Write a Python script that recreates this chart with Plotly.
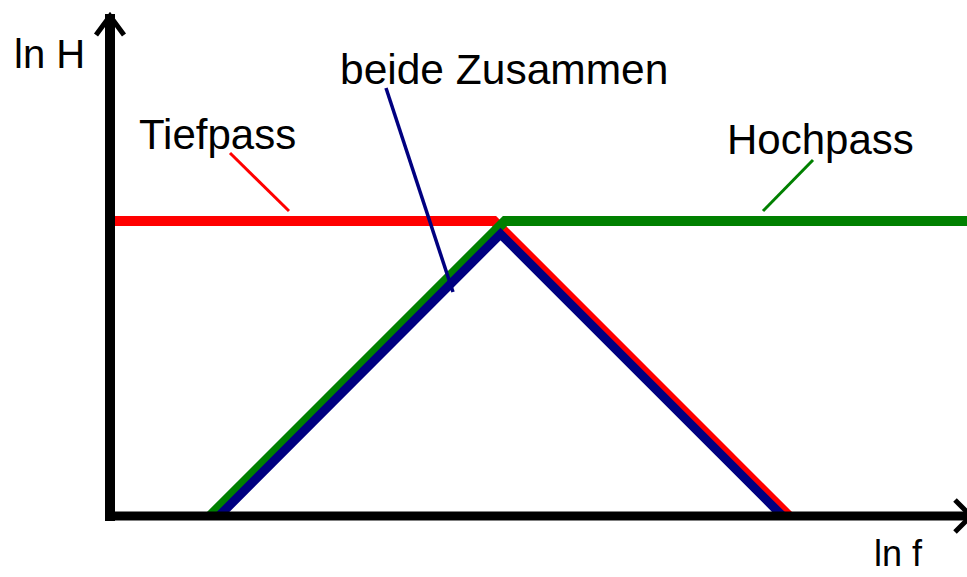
import plotly.graph_objects as go

# ln f / ln H values (abstract units, origin at axis crossing)
lnf_tiefpass = [0.03, 3.84, 6.79]
lnH_tiefpass = [2.95, 2.95, 0.0]

lnf_hochpass = [1.00, 3.95, 8.60]
lnH_hochpass = [0.0, 2.95, 2.95]

lnf_beide = [1.09, 3.905, 6.725]
lnH_beide = [0.0, 2.82, 0.0]

series_names = ["Tiefpass", "Hochpass", "beide Zusammen"]
axis_labels = ["ln H", "ln f"]

RED = "#ff0000"
GREEN = "#008000"
NAVY = "#000080"
FONT = "Liberation Sans, Arial, sans-serif"

fig = go.Figure()
fig.add_trace(go.Scatter(x=lnf_tiefpass, y=lnH_tiefpass, mode="lines",
                         line=dict(color=RED, width=10), name=series_names[0],
                         hoverinfo="skip"))
fig.add_trace(go.Scatter(x=lnf_hochpass, y=lnH_hochpass, mode="lines",
                         line=dict(color=GREEN, width=10), name=series_names[1],
                         hoverinfo="skip"))
fig.add_trace(go.Scatter(x=lnf_beide, y=lnH_beide, mode="lines",
                         line=dict(color=NAVY, width=9), name=series_names[2],
                         hoverinfo="skip"))

shapes = [
    # axes
    dict(type="line", x0=0, y0=-0.05, x1=0, y1=5.02, line=dict(color="black", width=10), layer="above"),
    dict(type="line", x0=-0.05, y0=0, x1=8.58, y1=0, line=dict(color="black", width=9), layer="above"),
    dict(type="path", path="M -0.14 4.81 L 0 5.0 L 0.14 4.81", line=dict(color="black", width=5), layer="above"),
    dict(type="path", path="M 8.45 0.16 L 8.61 0 L 8.45 -0.16", line=dict(color="black", width=5), layer="above"),
    # leader lines
    dict(type="line", x0=1.20, y0=3.63, x1=1.79, y1=3.05, line=dict(color=RED, width=3), layer="above"),
    dict(type="line", x0=7.03, y0=3.56, x1=6.53, y1=3.05, line=dict(color=GREEN, width=3), layer="above"),
    dict(type="line", x0=2.76, y0=4.28, x1=3.43, y1=2.24, line=dict(color=NAVY, width=3.5), layer="above"),
]

def label(text, x, y, size, color="black"):
    return dict(text=text, x=x, y=y, xref="x", yref="y", xanchor="left", yanchor="middle",
                showarrow=False, borderpad=0, font=dict(family=FONT, size=size, color=color))

annotations = [
    label(axis_labels[0], -0.97, 4.62, 40),
    label(axis_labels[1], 7.63, -0.37, 36),
    label(series_names[0], 0.28, 3.82, 42),
    label(series_names[2], 2.29, 4.47, 42.5),
    label(series_names[1], 6.16, 3.77, 42),
]

fig.update_layout(
    width=967, height=577, autosize=False,
    margin=dict(l=0, r=0, t=0, b=0),
    paper_bgcolor="white", plot_bgcolor="white",
    showlegend=False,
    xaxis=dict(range=[-1.10, 8.57], visible=False, fixedrange=True),
    yaxis=dict(range=[-0.61, 5.16], visible=False, fixedrange=True),
    shapes=shapes,
    annotations=annotations,
)

fig.write_html("out.html", config={"displayModeBar": False},
               post_script="document.body.style.margin='0px';document.body.style.padding='0px';document.body.style.overflow='hidden';")
